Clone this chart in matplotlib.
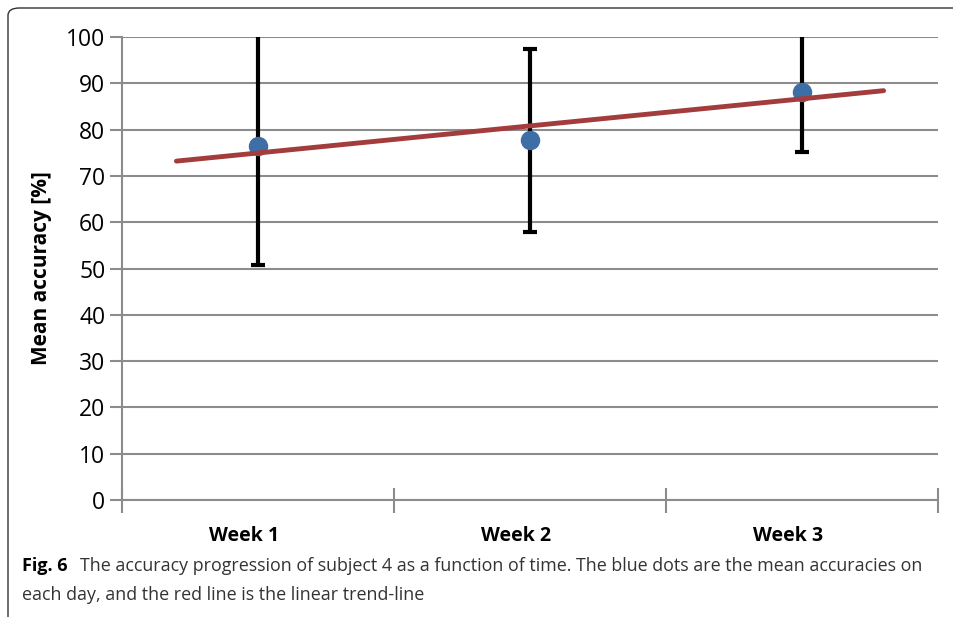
import numpy as np
import matplotlib.pyplot as plt
import matplotlib as mpl
from matplotlib.patches import FancyBboxPatch

# data
weeks = ['Week 1', 'Week 2', 'Week 3']
mean_acc = [76.5, 77.7, 88.2]
err_acc = [25.7, 19.8, 13.1]
yticks = list(range(0, 101, 10))

mpl.rcParams['font.family'] = ['Open Sans', 'DejaVu Sans']

grey = '#8c8c8c'
x = np.arange(1, len(weeks) + 1)

fig = plt.figure(figsize=(9.54, 6.17), dpi=100)
ax = fig.add_axes([122/954, 1 - 500/617, (938 - 122)/954, (500 - 37)/617])

# frame around the figure, clipped by the image edge
box = FancyBboxPatch((8/954, -0.5), 2.0, 1.5 - 8/617,
                     boxstyle='round,pad=0,rounding_size=0.012',
                     transform=fig.transFigure, fill=False,
                     edgecolor='#333333', lw=1.0, clip_on=False)
fig.patches.append(box)

ax.errorbar(x, mean_acc, yerr=err_acc, fmt='none', ecolor='black',
            elinewidth=3, capsize=5, capthick=3, zorder=3)
ax.plot(x, mean_acc, 'o', color='#3e6ea6', ms=13, zorder=4)

# linear trend-line with 0.3 forward/backward forecast
par = np.polyfit(x, mean_acc, 1)
xt = np.array([0.7, len(weeks) + 0.3])
ax.plot(xt, np.polyval(par, xt), color='#a33c3c', lw=3.5,
        solid_capstyle='round', zorder=5)

ax.set_xlim(0.5, len(weeks) + 0.5)
ax.set_ylim(0, 100)
ax.set_yticks(yticks)
ax.set_xticks(np.arange(0.5, len(weeks) + 1, 1))
ax.set_xticklabels([])
ax.set_xticks(x - 0.05, minor=True)
ax.set_xticklabels(weeks, minor=True, fontweight='bold', fontsize=14)
ax.tick_params(axis='x', which='major', direction='inout', length=18,
               width=1.5, color=grey)
ax.tick_params(axis='x', which='minor', length=0, pad=19)
ax.tick_params(axis='y', direction='out', length=9, width=1.5,
               color=grey, labelsize=16.5, pad=3)

ax.grid(axis='y', color=grey, lw=1.5)
ax.set_axisbelow(True)
for s in ['top', 'right']:
    ax.spines[s].set_visible(False)
for s in ['left', 'bottom']:
    ax.spines[s].set_color(grey)
    ax.spines[s].set_linewidth(1.5)

ax.set_ylabel('Mean accuracy [%]', fontweight='bold', fontsize=15, labelpad=10)

# caption
fig.text(22/954, 1 - 566/617, 'Fig. 6', fontweight='bold', fontsize=13,
         va='center', color='black')
fig.text(80/954, 1 - 566/617,
         'The accuracy progression of subject 4 as a function of time. The blue dots are the mean accuracies on',
         fontsize=12.9, va='center', color='#333333')
fig.text(22/954, 1 - 595/617,
         'each day, and the red line is the linear trend-line',
         fontsize=12.9, va='center', color='#333333')

fig.savefig('out.png', dpi=100)
